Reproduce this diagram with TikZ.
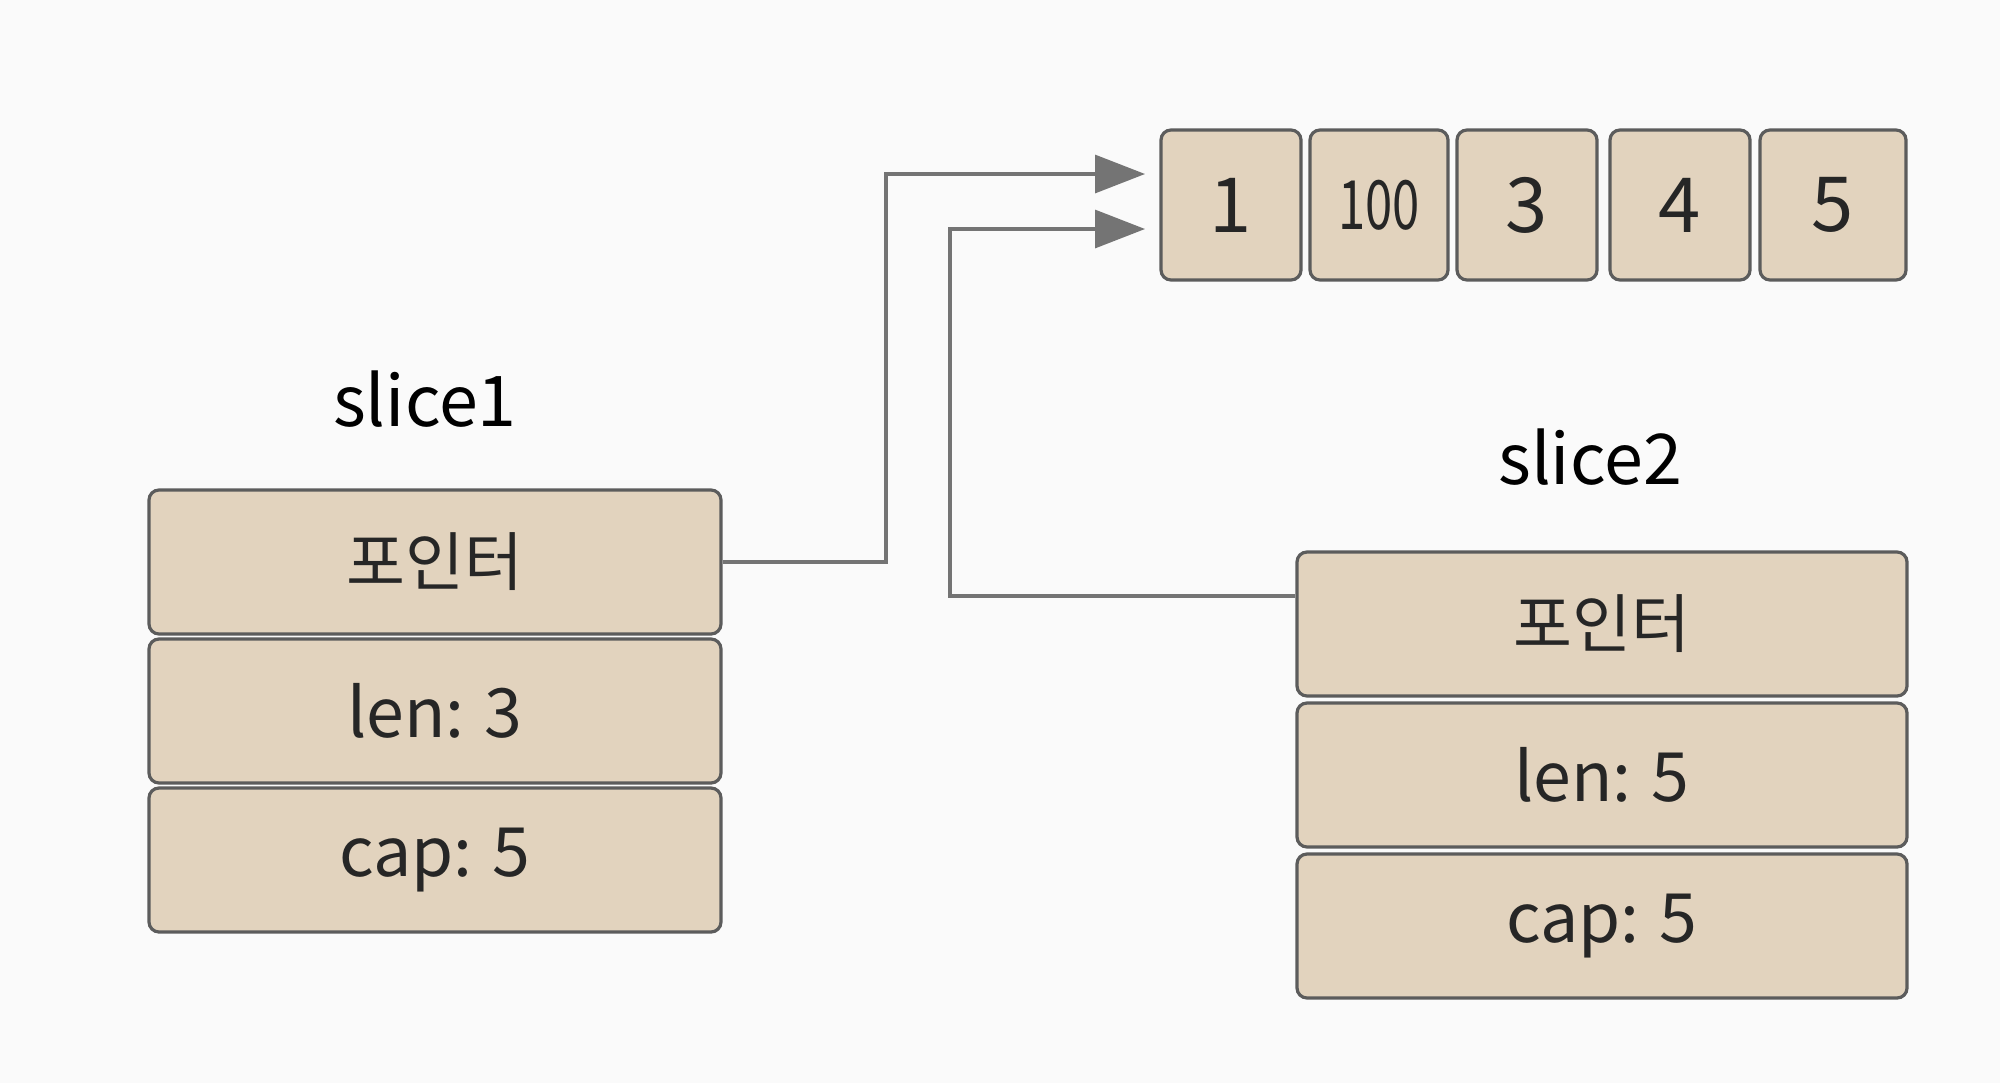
\documentclass[tikz,border=0pt]{standalone}
\usepackage{fontspec}
\usepackage{graphicx}
\setmainfont{Noto Sans CJK KR}
\usetikzlibrary{arrows.meta}
\definecolor{bg}{HTML}{FAFAFA}
\definecolor{cellfill}{HTML}{E2D3BE}
\definecolor{cellline}{HTML}{5C5C5C}
\definecolor{txt}{HTML}{262626}
\definecolor{conn}{HTML}{747474}
\begin{document}
\begin{tikzpicture}[x=0.5pt,y=-0.5pt,
  cell/.style={draw=cellline, line width=1.6pt, fill=cellfill, rounded corners=5pt,
    inner sep=0pt, text=txt, font=\fontsize{34}{38}\selectfont},
  rowcell/.style={cell, minimum height=72pt},
  arrcell/.style={cell, minimum width=70pt, minimum height=75pt, font=\fontsize{38}{42}\selectfont},
  lbl/.style={text=black, font=\fontsize{35}{40}\selectfont, inner sep=0pt},
  conn/.style={draw=conn, line width=1.6pt, -{Triangle[length=25pt,width=19pt]}},
]
\fill[bg] (0,0) rectangle (2000,1083);
\useasboundingbox (0,0) rectangle (2000,1083);

% array
\node[arrcell] (a1) at (1231,205) {1};
\node[arrcell, minimum width=69pt] (a2) at (1379,205) {\scalebox{0.72}[1]{\fontsize{34}{38}\selectfont 100}};
\node[arrcell] (a3) at (1527,205) {3};
\node[arrcell] (a4) at (1680,205) {4};
\node[arrcell, minimum width=73pt] (a5) at (1833,205) {5};

% slice1
\node[lbl] (l1) at (425,399) {slice1};
\node[rowcell, minimum width=286pt] (s1p) at (435,562) {\fontsize{32}{36}\selectfont 포인터};
\node[rowcell, minimum width=286pt] (s1l) at (435,711) {len: 3};
\node[rowcell, minimum width=286pt] (s1c) at (435,860) {cap: 5};

% slice2
\node[lbl] (l2) at (1590,457) {slice2};
\node[rowcell, minimum width=305pt] (s2p) at (1602,624) {\fontsize{32}{36}\selectfont 포인터};
\node[rowcell, minimum width=305pt] (s2l) at (1602,775) {len: 5};
\node[rowcell, minimum width=305pt] (s2c) at (1602,926) {cap: 5};

% connectors
\coordinate (t1) at (1145,174);
\coordinate (t2) at (1145,229);
\coordinate (b1) at (886,562);
\coordinate (b2) at (950,596);
\draw[conn] (s1p.east) -- (b1) |- (t1);
\draw[conn] (s2p.west |- b2) -- (b2) |- (t2);
\end{tikzpicture}
\end{document}
